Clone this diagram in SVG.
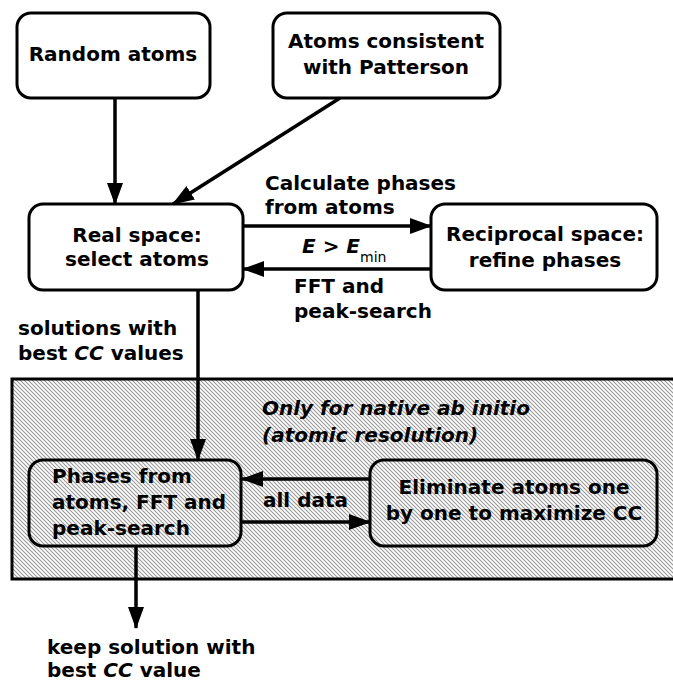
<svg xmlns="http://www.w3.org/2000/svg" width="673" height="683" viewBox="0 0 673 683">
<defs>
<pattern id="hatch" width="4" height="4" patternUnits="userSpaceOnUse">
<rect width="4" height="4" fill="#ffffff"/>
<path d="M-1,3 l2,2 M0,0 l4,4 M3,-1 l2,2" stroke="#999999" stroke-width="1.1"/>
</pattern>
<marker id="arr" viewBox="0 0 22 16" refX="21" refY="8" markerWidth="22" markerHeight="16" markerUnits="userSpaceOnUse" orient="auto">
<path d="M0,0 L22,8 L0,16 z" fill="#000"/>
</marker>
<style>
.box{fill:#fff;stroke:#000;stroke-width:3}
.hbox{fill:none;stroke:#000;stroke-width:3}
.t{font-family:"DejaVu Sans",Verdana,sans-serif;font-weight:bold;font-size:20px;fill:#000}
.c{text-anchor:middle}
.i{font-style:italic}
.con{stroke:#000;stroke-width:3.5;fill:none;marker-end:url(#arr)}
</style>
</defs>

<g id="region">
<rect x="12" y="379" width="680" height="200" fill="url(#hatch)" stroke="#000" stroke-width="3"/>
<text class="t i" x="262" y="415">Only for native ab initio</text>
<text class="t i" x="262" y="442">(atomic resolution)</text>
</g>

<g id="random">
<rect class="box" x="17" y="13" width="193" height="85" rx="14"/>
<text class="t c" x="113" y="61">Random atoms</text>
</g>

<g id="patterson">
<rect class="box" x="273" y="13" width="227" height="85" rx="14"/>
<text class="t c" x="386" y="48">Atoms consistent</text>
<text class="t c" x="386" y="74">with Patterson</text>
</g>

<g id="realspace">
<rect class="box" x="29" y="204" width="214" height="86" rx="14"/>
<text class="t c" x="137" y="242">Real space:</text>
<text class="t c" x="137" y="266">select atoms</text>
</g>

<g id="reciprocal">
<rect class="box" x="431" y="204" width="226" height="86" rx="14"/>
<text class="t c" x="545" y="241">Reciprocal space:</text>
<text class="t c" x="545" y="267">refine phases</text>
</g>

<g id="phases">
<rect class="hbox" x="29" y="460" width="212" height="86" rx="14"/>
<text class="t" x="52" y="483">Phases from</text>
<text class="t" x="52" y="509">atoms, FFT and</text>
<text class="t" x="52" y="535">peak-search</text>
</g>

<g id="eliminate">
<rect class="hbox" x="370" y="460" width="287" height="86" rx="14"/>
<text class="t c" x="514" y="494">Eliminate atoms one</text>
<text class="t c" x="514" y="520">by one to maximize CC</text>
</g>

<g id="connectors">
<line class="con" x1="115" y1="98" x2="115" y2="204"/>
<line class="con" x1="340" y1="98" x2="173" y2="204"/>
<line class="con" x1="243" y1="226" x2="431" y2="226"/>
<line class="con" x1="431" y1="269" x2="243" y2="269"/>
<line class="con" x1="198" y1="290" x2="198" y2="460"/>
<line class="con" x1="370" y1="479" x2="242" y2="479"/>
<line class="con" x1="241" y1="522" x2="370" y2="522"/>
<line class="con" x1="136" y1="546" x2="136" y2="628"/>
</g>

<g id="labels">
<text class="t" x="265" y="190">Calculate phases</text>
<text class="t" x="265" y="214">from atoms</text>
<text class="t" x="302" y="253"><tspan font-style="italic">E</tspan> &gt; <tspan font-style="italic">E</tspan><tspan font-size="14" font-weight="normal" dy="9">min</tspan></text>
<text class="t" x="294" y="293">FFT and</text>
<text class="t" x="294" y="318">peak-search</text>
<text class="t" x="18" y="335">solutions with</text>
<text class="t" x="18" y="360">best <tspan font-style="italic">CC</tspan> values</text>
<text class="t" x="263" y="507">all data</text>
<text class="t" x="47" y="654">keep solution with</text>
<text class="t" x="47" y="677">best <tspan font-style="italic">CC</tspan> value</text>
</g>
</svg>
